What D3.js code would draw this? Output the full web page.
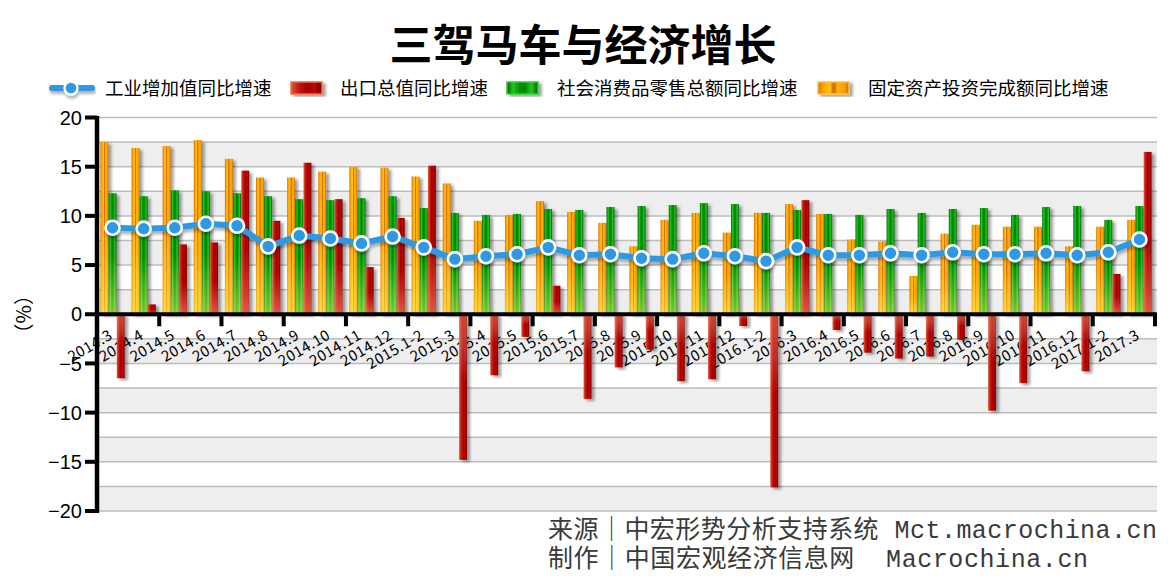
<!DOCTYPE html>
<html><head><meta charset="utf-8">
<script src="https://cdn.jsdelivr.net/npm/d3@7"></script>
<style>body{margin:0;background:#fff;} svg{display:block;}</style>
</head><body><svg id="c" width="1172" height="576"></svg>
<script>
const categories = ["2014.3","2014.4","2014.5","2014.6","2014.7","2014.8","2014.9","2014.10","2014.11","2014.12",
  "2015.1-2","2015.3","2015.4","2015.5","2015.6","2015.7","2015.8","2015.9","2015.10","2015.11","2015.12",
  "2016.1-2","2016.3","2016.4","2016.5","2016.6","2016.7","2016.8","2016.9","2016.10","2016.11","2016.12",
  "2017.1-2","2017.3"];
const industry = [8.8,8.7,8.8,9.2,9.0,6.9,8.0,7.7,7.2,7.9,6.8,5.6,5.9,6.1,6.8,6.0,6.1,5.7,5.6,6.2,5.9,5.4,6.8,6.0,6.0,6.2,6.0,6.3,6.1,6.1,6.2,6.0,6.3,7.6];
const exportsYoY = [-6.5,1.0,7.1,7.3,14.6,9.5,15.4,11.7,4.8,9.8,15.1,-14.8,-6.2,-2.3,2.9,-8.6,-5.4,-3.6,-6.8,-6.6,-1.2,-17.6,11.6,-1.6,-3.9,-4.5,-4.3,-2.6,-9.8,-7.0,0.1,-5.8,4.1,16.5];
const retail = [12.3,12.0,12.6,12.5,12.3,12.0,11.7,11.6,11.8,12.0,10.8,10.3,10.1,10.2,10.7,10.6,10.9,11.0,11.1,11.3,11.2,10.3,10.6,10.2,10.1,10.7,10.3,10.7,10.8,10.1,10.9,11.0,9.6,11.0];
const fai = [17.5,16.9,17.1,17.7,15.8,13.9,13.9,14.5,15.0,14.9,14.0,13.3,9.5,10.1,11.5,10.4,9.3,6.9,9.6,10.3,8.3,10.3,11.2,10.2,7.6,7.4,3.9,8.2,9.1,8.9,8.9,6.9,8.9,9.6];
const yTicks = [20,15,10,5,0,-5,-10,-15,-20];
const seriesNames = ["工业增加值同比增速","出口总值同比增速","社会消费品零售总额同比增速","固定资产投资完成额同比增速"];
const titleText = "三驾马车与经济增长";
const unitText = "（%）";
const footerLines = ["来源｜中宏形势分析支持系统 Mct.macrochina.cn", "制作｜中国宏观经济信息网  Macrochina.cn"];

(function(){
const svg = d3.select("#c");
const pLeft = 97, pRight = 1155, pTop = 117.5, pBottom = 511;
const CJK = "'Noto Sans CJK SC','Noto Sans',sans-serif";
const MONO = "'Liberation Mono','Noto Sans CJK SC',monospace";
const LAT = "'Liberation Sans',Arial,sans-serif";
const blue = "#2D98E2";

const defs = svg.append("defs");
function hGrad(id, stops){
  const g = defs.append("linearGradient").attr("id", id).attr("x1","0").attr("x2","1").attr("y1","0").attr("y2","0");
  stops.forEach(s => g.append("stop").attr("offset", s[0]).attr("stop-color", s[1]));
}
function vGrad(id, stops){
  const g = defs.append("linearGradient").attr("id", id).attr("x1","0").attr("x2","0").attr("y1","0").attr("y2","1");
  stops.forEach(s => g.append("stop").attr("offset", s[0]).attr("stop-color", s[1]).attr("stop-opacity", s[2]));
}
hGrad("gOrange", [[0,"#D87000"],[0.18,"#FFA800"],[0.4,"#FFC020"],[0.46,"#D87800"],[0.56,"#D87800"],[0.62,"#FFB010"],[0.85,"#FFA000"],[1,"#C86800"]]);
hGrad("gGreen", [[0,"#006000"],[0.2,"#22C822"],[0.42,"#008A00"],[0.58,"#008A00"],[0.8,"#22C822"],[1,"#005800"]]);
hGrad("gRed", [[0,"#E05A3A"],[0.25,"#C41A10"],[0.5,"#A80000"],[0.75,"#B80808"],[1,"#7A0000"]]);
vGrad("vPos", [[0,"#ffffff",0],[0.5,"#ffff80",0],[1,"#ffff60",0.5]]);
vGrad("vNeg", [[0,"#ff9060",0.45],[0.45,"#ffffff",0],[1,"#ffffff",0]]);
vGrad("vPosR", [[0,"#ffffff",0],[0.55,"#ff8060",0],[1,"#ff9070",0.6]]);

const sh = defs.append("filter").attr("id","shadow").attr("x","-50%").attr("y","-20%").attr("width","250%").attr("height","140%");
sh.append("feDropShadow").attr("dx",3).attr("dy",2).attr("stdDeviation",1.4).attr("flood-color","#000").attr("flood-opacity",0.38);
const lsh = defs.append("filter").attr("id","lshadow").attr("x","-10%").attr("y","-50%").attr("width","120%").attr("height","200%");
lsh.append("feDropShadow").attr("dx",1).attr("dy",3).attr("stdDeviation",1.5).attr("flood-color","#000").attr("flood-opacity",0.3);

const x = d3.scaleBand().domain(categories).range([pLeft, pRight]).paddingInner(0.22).paddingOuter(0.11);
const keys = ["fai","retail","exp"];
const xs = d3.scaleBand().domain(keys).range([0, x.bandwidth()]).paddingInner(0.04);
const y = d3.scaleLinear().domain([-20, 20]).range([pBottom, pTop]);
const step = x.step();

// background bands
const bandStarts = d3.range(-20, 20, 2.5);
svg.append("g").selectAll("rect").data(bandStarts).join("rect")
  .attr("x", pLeft).attr("width", pRight + 2 - pLeft)
  .attr("y", d => y(d + 2.5)).attr("height", d => y(d) - y(d + 2.5))
  .attr("fill", (d, i) => i % 2 === 0 ? "#EEEEEE" : "#FFFFFF");
// grid lines
svg.append("g").selectAll("line").data(d3.range(-20, 20.01, 2.5)).join("line")
  .attr("x1", pLeft).attr("x2", pRight + 2)
  .attr("y1", d => y(d)).attr("y2", d => y(d))
  .attr("stroke", "#BDBDBD").attr("stroke-width", 1.5);

// x labels (drawn under bars)
svg.append("g").selectAll("text").data(categories).join("text")
  .attr("transform", d => `translate(${x(d) + x.bandwidth()/2 + 1},${y(0) + 24}) rotate(-30)`)
  .attr("text-anchor", "end")
  .attr("font-family", CJK).attr("font-size", 15).attr("letter-spacing", 0.4).attr("fill", "#000")
  .text(d => d);

// bars
const rows = categories.map((c, i) => ({c, fai: fai[i], retail: retail[i], exp: exportsYoY[i]}));
const fills = {fai: "url(#gOrange)", retail: "url(#gGreen)", exp: "url(#gRed)"};
const barData = [];
rows.forEach(r => keys.forEach(k => barData.push({c: r.c, k, v: r[k]})));
const bars = svg.append("g").selectAll("g").data(barData).join("g").attr("filter", "url(#shadow)");
bars.append("rect")
  .attr("x", d => x(d.c) + xs(d.k)).attr("width", xs.bandwidth())
  .attr("y", d => y(Math.max(0, d.v))).attr("height", d => Math.abs(y(d.v) - y(0)))
  .attr("fill", d => fills[d.k]);
bars.append("rect")
  .attr("x", d => x(d.c) + xs(d.k)).attr("width", xs.bandwidth())
  .attr("y", d => y(Math.max(0, d.v))).attr("height", d => Math.abs(y(d.v) - y(0)))
  .attr("fill", d => d.v < 0 ? "url(#vNeg)" : (d.k === "exp" ? "url(#vPosR)" : "url(#vPos)"));

// x axis
const y0 = y(0);
svg.append("line").attr("x1", pLeft).attr("x2", pRight + 2).attr("y1", y0).attr("y2", y0)
  .attr("stroke", "#000").attr("stroke-width", 4);
const tickIdx = d3.range(2, categories.length + 1, 2);
svg.append("g").selectAll("rect").data(tickIdx).join("rect")
  .attr("x", d => x.range()[0] + d * step - 2).attr("width", 4)
  .attr("y", y0).attr("height", 12).attr("fill", "#000");

// y axis
svg.append("line").attr("x1", pLeft).attr("x2", pLeft).attr("y1", pTop - 1.5).attr("y2", pBottom + 2)
  .attr("stroke", "#000").attr("stroke-width", 4.5);
svg.append("g").selectAll("rect").data(yTicks).join("rect")
  .attr("x", pLeft - 12).attr("width", 12).attr("y", d => y(d) - 2).attr("height", 4).attr("fill", "#000");
svg.append("g").selectAll("text").data(yTicks).join("text")
  .attr("x", pLeft - 15).attr("y", d => y(d)).attr("dy", "0.36em")
  .attr("text-anchor", "end").attr("font-family", LAT).attr("font-size", 20).attr("fill", "#000")
  .text(d => d3.format("d")(d));

// unit label
svg.append("text").attr("transform", `translate(31,${y(0)}) rotate(-90)`)
  .attr("text-anchor", "middle").attr("font-family", CJK).attr("font-size", 20).text(unitText);

// line
const lineGen = d3.line().x((d, i) => x(categories[i]) + x.bandwidth()/2).y(d => y(d));
const lg = svg.append("g").attr("filter", "url(#lshadow)");
lg.append("path").datum(industry).attr("d", lineGen).attr("fill", "none")
  .attr("stroke", blue).attr("stroke-width", 6).attr("stroke-linejoin", "round");
lg.selectAll("circle").data(industry).join("circle")
  .attr("cx", (d, i) => x(categories[i]) + x.bandwidth()/2).attr("cy", d => y(d))
  .attr("r", 7).attr("fill", blue).attr("stroke", "#fff").attr("stroke-width", 2.6);

// title
svg.append("text").attr("x", 583).attr("y", 61).attr("text-anchor", "middle")
  .attr("font-family", CJK).attr("font-weight", "bold").attr("font-size", 43).text(titleText);

// legend
const leg = svg.append("g");
const ly = 88;
const li = leg.append("g").attr("filter", "url(#lshadow)");
li.append("line").attr("x1", 52).attr("x2", 92).attr("y1", ly).attr("y2", ly)
  .attr("stroke", blue).attr("stroke-width", 6).attr("stroke-linecap", "round");
li.append("circle").attr("cx", 71).attr("cy", ly).attr("r", 6.5).attr("fill", blue).attr("stroke", "#fff").attr("stroke-width", 2.4);
const legItems = [
  {name: seriesNames[0], tx: 105},
  {name: seriesNames[1], rx: 291, tx: 340, fill: "url(#gRed)", stroke: "#E8704F"},
  {name: seriesNames[2], rx: 507, tx: 557, fill: "url(#gGreen)", stroke: "#30D030"},
  {name: seriesNames[3], rx: 818, tx: 868, fill: "url(#gOrange)", stroke: "#FFC040"}
];
legItems.forEach(it => {
  if (it.rx !== undefined) {
    leg.append("rect").attr("x", it.rx).attr("y", ly - 6).attr("width", 31).attr("height", 12)
      .attr("fill", it.fill).attr("stroke", it.stroke).attr("stroke-width", 1.5).attr("filter", "url(#shadow)");
  }
  leg.append("text").attr("x", it.tx).attr("y", ly).attr("dy", "0.36em")
    .attr("font-family", CJK).attr("font-size", 18.5).attr("fill", "#000").text(it.name);
});

// footer (one text block, two lines)
const ft = svg.append("text").attr("font-family", MONO).attr("font-size", 25)
  .attr("fill", "#3a3a3a").style("white-space", "pre");
const fWidths = [609, 540];
ft.selectAll("tspan").data(footerLines).join("tspan")
  .attr("x", 548).attr("y", (d, i) => 538 + i * 29)
  .attr("textLength", (d, i) => fWidths[i]).attr("lengthAdjust", "spacing")
  .text(d => d);
})();
</script>
</body></html>
